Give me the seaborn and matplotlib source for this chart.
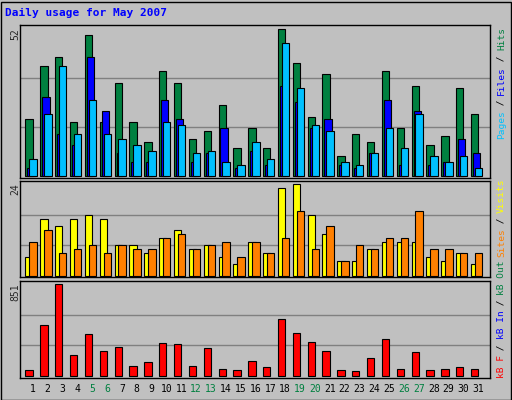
import numpy as np
import seaborn as sns
import matplotlib.pyplot as plt

days = list(range(1, 32))
weekend = [5, 6, 12, 13, 19, 20, 26, 27]

hits = [20, 39, 42, 19, 50, 19, 33, 19, 12, 37, 33, 13, 16, 25, 10, 17, 10, 52, 40, 21, 36, 7, 15, 12, 37, 17, 32, 11, 14, 31, 22]
files = [3, 28, 15, 11, 42, 23, 8, 5, 5, 27, 20, 5, 8, 17, 3, 9, 4, 32, 26, 17, 20, 4, 3, 8, 27, 4, 23, 4, 5, 13, 8]
pages = [6, 22, 39, 15, 27, 15, 13, 11, 9, 19, 18, 8, 9, 5, 4, 12, 6, 47, 31, 18, 16, 5, 4, 8, 17, 10, 22, 7, 5, 7, 3]

visits = [5, 15, 13, 15, 16, 15, 8, 8, 6, 10, 12, 7, 8, 5, 3, 9, 6, 23, 24, 16, 11, 4, 4, 7, 9, 9, 9, 5, 4, 6, 3]
sites = [9, 12, 6, 7, 8, 6, 8, 7, 7, 10, 11, 7, 8, 9, 5, 9, 6, 10, 17, 7, 13, 4, 8, 7, 10, 10, 17, 7, 7, 6, 6]

kb_f = [59, 476, 851, 198, 393, 235, 272, 96, 133, 310, 300, 96, 263, 68, 59, 142, 87, 532, 402, 319, 235, 59, 50, 170, 347, 68, 226, 59, 68, 87, 68]

BG = '#c0c0c0'
sns.set_style('white')
plt.rcParams['font.family'] = ['DejaVu Sans Mono']

W, H = 512, 400
fig = plt.figure(figsize=(W / 100, H / 100), dpi=100, facecolor=BG)

def add_ax(top, bottom, left=20, right=490):
    return fig.add_axes([left / W, 1 - bottom / H, (right - left) / W, (bottom - top) / H])

x = np.array(days, dtype=float)
ax1 = add_ax(25, 178)
ax2 = add_ax(181, 277)
ax3 = add_ax(281, 378)

ec = dict(edgecolor='black', linewidth=0.8)
ax1.bar(x - 0.245, hits, width=0.49, color='#008040', **ec)
ax1.bar(x - 0.115, files, width=0.49, color='#0000ff', **ec)
ax1.bar(x + 0.02, pages, width=0.5, color='#00c0ff', **ec)
ax2.bar(x - 0.245, visits, width=0.49, color='#ffff00', **ec)
ax2.bar(x + 0.02, sites, width=0.5, color='#ff8000', **ec)
ax3.bar(x - 0.245, kb_f, width=0.49, color='#ff0000', **ec)

limits = [(ax1, 52, -0.7, 53.4), (ax2, 24, -0.3, 24.9), (ax3, 851, -18.6, 881)]
for ax, top, lo, hi in limits:
    ax.set_facecolor(BG)
    ax.set_xlim(0.14, 31.79)
    ax.set_ylim(lo, hi)
    for g in (top / 3, 2 * top / 3):
        ax.axhline(g, color='#808080', lw=1, zorder=0)
    ax.set_xticks([])
    ax.set_yticks([])
    for s in ax.spines.values():
        s.set_color('black')
        s.set_linewidth(1)
    ax.set_axisbelow(True)

fig.text(5 / W, 1 - 16 / H, 'Daily usage for May 2007', color='#0000ff',
         fontsize=8, fontweight='bold')

for label, ytop in [('52', 28), ('24', 183), ('851', 283)]:
    fig.text(10 / W, 1 - ytop / H, label, rotation=90, fontsize=7, va='top', ha='left')

for d in days:
    xp = 20 + (d - 0.14) / (31.79 - 0.14) * 470
    fig.text(xp / W, 1 - 389 / H, str(d), fontsize=7, ha='center', va='center',
             color='#008040' if d in weekend else 'black')

renderer = fig.canvas.get_renderer()

def side_label(parts, ybottom):
    # stack coloured pieces bottom-to-top, measuring each one
    y = ybottom
    for text, col in parts:
        t = fig.text(497 / W, 1 - y / H, text, rotation=90, fontsize=6.8,
                     color=col, va='bottom', ha='left')
        y -= len(text) * 5.55

side_label([('Pages', '#00c0ff'), (' / ', 'black'), ('Files', '#0000ff'),
            (' / ', 'black'), ('Hits', '#008040')], 139)
side_label([('Sites', '#ff8000'), (' / ', 'black'), ('Visits', '#ffff00')], 257)
side_label([('kB F', '#ff0000'), (' / ', 'black'), ('kB In', '#0000ff'),
            (' / ', 'black'), ('kB Out', '#008040')], 378)

fig.patches.append(plt.Rectangle((0.5 / W, 0.5 / H), 1 - 2 / W, 1 - 2 / H, transform=fig.transFigure,
                                 fill=False, edgecolor='black', lw=1))
fig.savefig('out.png', dpi=100, facecolor=BG)
